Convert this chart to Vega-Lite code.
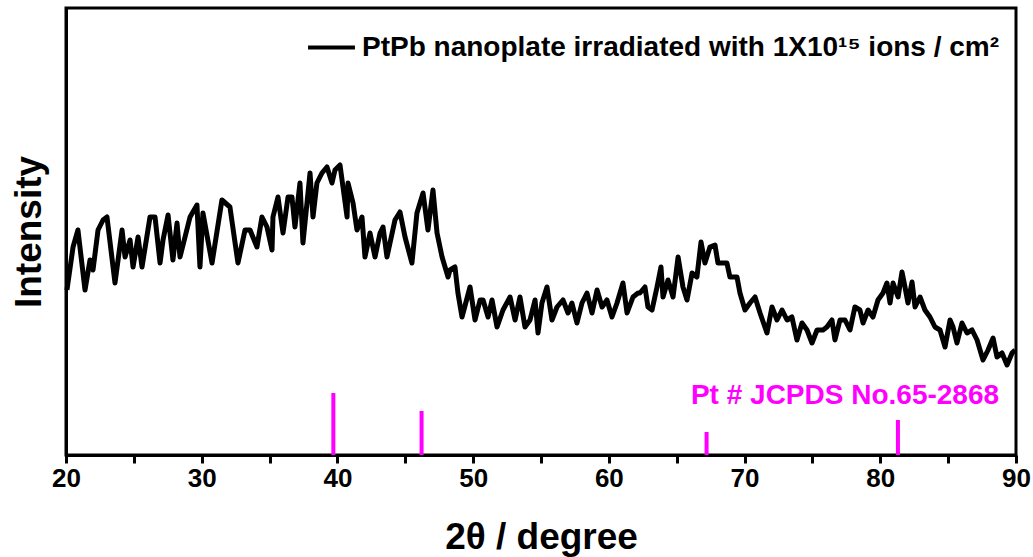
{
  "$schema": "https://vega.github.io/schema/vega-lite/v6.json",
  "width": 950,
  "height": 447,
  "autosize": "none",
  "padding": {"left": 66, "top": 8, "right": 17, "bottom": 102},
  "background": "white",
  "config": {"view": {"stroke": "black", "strokeWidth": 3}, "font": "Liberation Sans"},
  "datasets": {
    "xrd": [
      {"t":20.07,"i":165},{"t":20.52,"i":208},{"t":20.88,"i":225},{"t":21.40,"i":165},{"t":21.77,"i":195},{"t":21.99,"i":185},{"t":22.36,"i":225},{"t":22.73,"i":235},{"t":23.02,"i":238},{"t":23.61,"i":172},{"t":24.13,"i":225},{"t":24.35,"i":198},{"t":24.72,"i":215},{"t":24.94,"i":188},{"t":25.31,"i":218},{"t":25.60,"i":188},{"t":26.19,"i":238},{"t":26.56,"i":238},{"t":26.93,"i":192},{"t":27.15,"i":215},{"t":27.52,"i":240},{"t":27.88,"i":195},{"t":28.18,"i":232},{"t":28.40,"i":198},{"t":29.14,"i":238},{"t":29.65,"i":250},{"t":29.87,"i":188},{"t":30.09,"i":242},{"t":30.76,"i":192},{"t":31.49,"i":255},{"t":32.08,"i":248},{"t":32.67,"i":192},{"t":33.19,"i":225},
      {"t":33.56,"i":225},{"t":34.07,"i":208},{"t":34.44,"i":238},{"t":34.81,"i":228},{"t":35.18,"i":205},{"t":35.25,"i":238},{"t":35.62,"i":258},{"t":35.99,"i":222},{"t":36.36,"i":258},{"t":36.65,"i":258},{"t":36.87,"i":228},{"t":37.24,"i":272},{"t":37.46,"i":212},{"t":37.98,"i":282},{"t":38.20,"i":238},{"t":38.49,"i":272},{"t":38.86,"i":282},{"t":39.23,"i":288},{"t":39.60,"i":272},{"t":39.82,"i":285},{"t":40.19,"i":290},{"t":40.71,"i":238},{"t":40.78,"i":272},{"t":41.15,"i":252},{"t":41.44,"i":225},{"t":41.81,"i":238},{"t":42.03,"i":198},{"t":42.40,"i":222},{"t":42.77,"i":198},{"t":43.14,"i":222},{"t":43.36,"i":228},{"t":43.65,"i":198},{"t":44.24,"i":235},{"t":44.61,"i":243},{"t":44.98,"i":218},{"t":45.49,"i":192},{"t":45.86,"i":242},{"t":46.31,"i":262},{"t":46.67,"i":225},{"t":47.04,"i":265},{"t":47.34,"i":222},{"t":47.71,"i":198},{"t":48.15,"i":178},
      {"t":48.29,"i":185},{"t":48.66,"i":188},{"t":48.88,"i":162},{"t":49.18,"i":138},{"t":49.77,"i":168},{"t":50.14,"i":135},{"t":50.51,"i":155},{"t":50.73,"i":155},{"t":51.10,"i":138},{"t":51.39,"i":155},{"t":51.76,"i":128},{"t":52.20,"i":145},{"t":52.72,"i":158},{"t":53.09,"i":135},{"t":53.45,"i":158},{"t":53.82,"i":128},{"t":54.19,"i":135},{"t":54.56,"i":155},{"t":54.78,"i":122},{"t":55.07,"i":152},{"t":55.44,"i":168},{"t":55.81,"i":135},{"t":56.18,"i":148},{"t":56.62,"i":155},{"t":56.99,"i":142},{"t":57.28,"i":152},{"t":57.65,"i":132},{"t":58.02,"i":152},{"t":58.39,"i":162},{"t":58.76,"i":142},{"t":59.13,"i":165},{"t":59.50,"i":148},{"t":59.86,"i":155},{"t":60.23,"i":138},{"t":60.60,"i":152},{"t":61.04,"i":172},{"t":61.34,"i":142},{"t":61.78,"i":158},{"t":62.15,"i":162},
      {"t":62.29,"i":162},{"t":62.66,"i":168},{"t":62.88,"i":148},{"t":63.18,"i":145},{"t":63.55,"i":168},{"t":63.84,"i":188},{"t":63.99,"i":158},{"t":64.36,"i":175},{"t":64.73,"i":158},{"t":65.10,"i":198},{"t":65.46,"i":168},{"t":65.76,"i":155},{"t":66.13,"i":182},{"t":66.49,"i":178},{"t":66.79,"i":213},{"t":67.08,"i":192},{"t":67.45,"i":208},{"t":67.82,"i":210},{"t":68.04,"i":192},{"t":68.70,"i":192},{"t":68.92,"i":178},{"t":69.44,"i":178},{"t":69.66,"i":162},{"t":70.03,"i":145},{"t":70.40,"i":152},{"t":70.77,"i":158},{"t":71.14,"i":142},{"t":71.65,"i":122},{"t":72.02,"i":148},{"t":72.39,"i":135},{"t":72.76,"i":145},{"t":73.13,"i":135},{"t":73.49,"i":138},{"t":73.86,"i":115},{"t":74.23,"i":132},{"t":74.60,"i":125},{"t":74.97,"i":112},{"t":75.34,"i":125},{"t":75.78,"i":125},
      {"t":76.07,"i":128},{"t":76.44,"i":135},{"t":76.66,"i":115},{"t":77.03,"i":135},{"t":77.40,"i":135},{"t":77.77,"i":125},{"t":78.13,"i":148},{"t":78.50,"i":145},{"t":78.73,"i":132},{"t":79.10,"i":145},{"t":79.46,"i":138},{"t":79.83,"i":155},{"t":80.20,"i":162},{"t":80.49,"i":172},{"t":80.72,"i":152},{"t":80.94,"i":172},{"t":81.31,"i":158},{"t":81.60,"i":183},{"t":81.82,"i":168},{"t":82.04,"i":152},{"t":82.34,"i":173},{"t":82.56,"i":148},{"t":82.93,"i":158},{"t":83.29,"i":145},{"t":83.66,"i":138},{"t":84.03,"i":128},{"t":84.40,"i":125},{"t":84.77,"i":108},{"t":85.14,"i":135},{"t":85.36,"i":128},{"t":85.65,"i":112},{"t":86.02,"i":132},{"t":86.39,"i":122},{"t":86.76,"i":125},{"t":87.13,"i":115},{"t":87.57,"i":95},{"t":87.94,"i":105},{"t":88.31,"i":117},{"t":88.60,"i":98},{"t":88.97,"i":102},{"t":89.34,"i":90},{"t":89.71,"i":102},{"t":89.93,"i":105}
    ],
    "ref": [
      {"t":39.7,"i":62},{"t":46.2,"i":44},{"t":67.2,"i":23},{"t":81.3,"i":35}
    ],
    "lab": [
      {"t":77.4,"i":59,"label":"Pt # JCPDS No.65-2868"}
    ]
  },
  "layer": [
    {
      "data": {"name": "xrd"},
      "mark": {"type": "line", "strokeWidth": 5, "strokeJoin": "round"},
      "encoding": {
        "x": {"field": "t", "type": "quantitative", "scale": {"domain": [20, 90], "nice": false, "zero": false},
          "axis": {"orient": "bottom", "values": [20,25,30,35,40,45,50,55,60,65,70,75,80,85,90], "grid": false, "ticks": true,
            "tickSize": 8,
            "labelExpr": "datum.value % 10 === 0 ? datum.label : ''",
            "tickWidth": 3, "tickColor": "#000000",
            "domainWidth": 3, "domainColor": "black", "labelFontSize": 26, "labelFontWeight": "bold", "labelColor": "black", "labelPadding": 2,
            "labelFlush": false, "labelOverlap": false, "title": "2θ / degree", "titleFontSize": 37, "titleFontWeight": "bold", "titleColor": "black", "titlePadding": 28}},
        "y": {"field": "i", "type": "quantitative", "scale": {"domain": [0, 447], "nice": false},
          "axis": {"ticks": false, "labels": false, "grid": false, "domainWidth": 3, "domainColor": "black",
            "title": "Intensity", "titleFontSize": 37, "titleFontWeight": "bold", "titleColor": "black", "titlePadding": 18}},
        "color": {"datum": "PtPb nanoplate irradiated with 1X10¹⁵ ions / cm²", "type": "nominal",
          "scale": {"range": ["black"]},
          "legend": {"orient": "none", "legendX": 240, "legendY": 14, "title": null, "padding": 0,
            "symbolType": "stroke", "symbolStrokeWidth": 4, "symbolSize": 2200, "symbolStrokeColor": "black",
            "labelFontSize": 28, "labelFontWeight": "bold", "labelColor": "black", "labelOffset": 5, "labelLimit": 1000}}
      }
    },
    {
      "data": {"name": "ref"},
      "mark": {"type": "rule", "color": "#FF00FF", "strokeWidth": 4},
      "encoding": {
        "x": {"field": "t", "type": "quantitative"},
        "y": {"field": "i", "type": "quantitative"},
        "y2": {"datum": 0}
      }
    },
    {
      "data": {"name": "lab"},
      "mark": {"type": "text", "color": "#FF00FF", "fontSize": 28, "fontWeight": "bold", "font": "Liberation Sans"},
      "encoding": {
        "x": {"field": "t", "type": "quantitative"},
        "y": {"field": "i", "type": "quantitative"},
        "text": {"field": "label"}
      }
    }
  ]
}
